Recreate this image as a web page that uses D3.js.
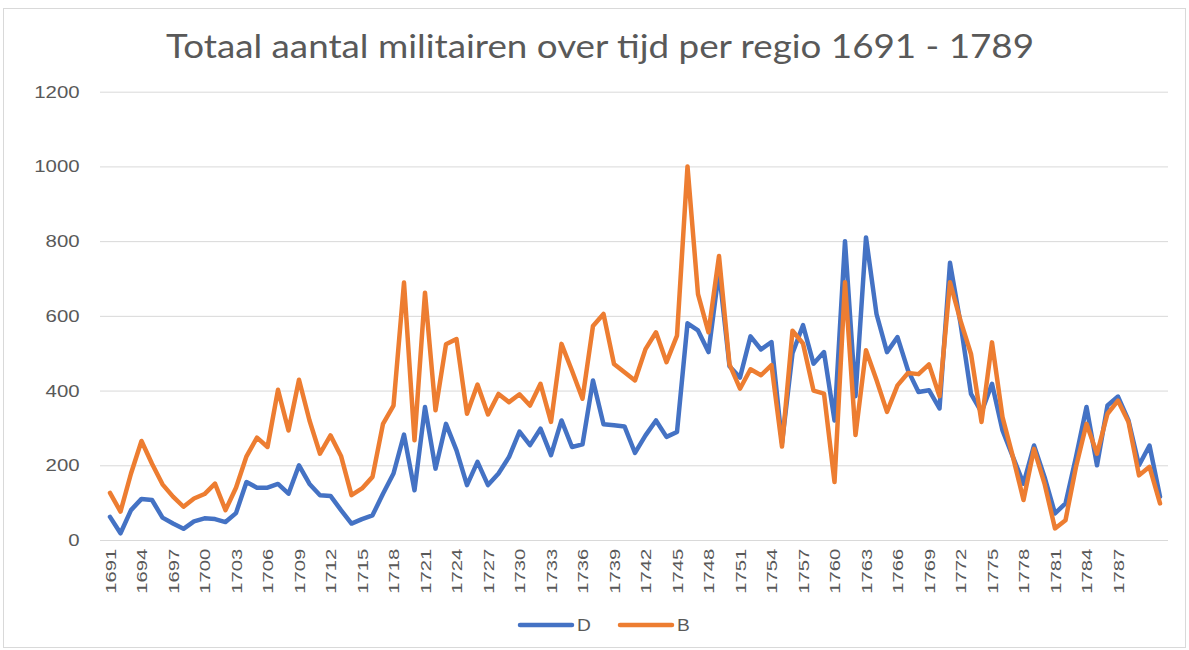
<!DOCTYPE html>
<meta charset="utf-8">
<style>
  body { margin: 0; background: #fff; }
  .grid line { stroke: #d9d9d9; stroke-width: 1; }
  .grid .domain { display: none; }
  .axis text { fill: #595959; font-family: "Liberation Sans", Arial, sans-serif; }
  .axis .domain, .axis line { display: none; }
  .title { fill: #595959; font-family: Lato, "Open Sans", sans-serif; }
  .legend text { fill: #595959; font-family: "Liberation Sans", Arial, sans-serif; font-size: 16px; }
</style>
<svg width="1189" height="650"></svg>
<script src="https://d3js.org/d3.v7.min.js"></script>
<script>
// Years on the category axis
var years = d3.range(1691, 1792);
// Years that carry a label on the axis
var tickLabels = [1691, 1694, 1697, 1700, 1703, 1706, 1709, 1712, 1715, 1718, 1721, 1724, 1727,
  1730, 1733, 1736, 1739, 1742, 1745, 1748, 1751, 1754, 1757, 1760, 1763, 1766, 1769, 1772,
  1775, 1778, 1781, 1784, 1787];
var yTicks = [0, 200, 400, 600, 800, 1000, 1200];

// Series D (blue)
var seriesD = [62, 18, 80, 110, 107, 60, 44, 30, 50, 58,
  56, 48, 72, 155, 140, 140, 150, 124, 200, 150,
  120, 118, 80, 44, 56, 66, 124, 178, 282, 133,
  356, 191, 311, 240, 147, 209, 147, 178, 222, 290,
  254, 298, 227, 320, 249, 256, 427, 310, 307, 304,
  233, 280, 320, 276, 289, 580, 561, 503, 720, 465,
  435, 545, 510, 530, 260, 500, 575, 472, 503, 320,
  800, 385, 810, 605, 503, 543, 454, 396, 401, 352,
  742, 580, 391, 342, 418, 293, 222, 151, 253, 169,
  71, 98, 222, 356, 200, 360, 384, 320, 200, 253,
  116];
// Series B (orange)
var seriesB = [126, 76, 178, 265, 204, 149, 116, 89, 111, 123,
  151, 80, 140, 224, 274, 249, 402, 293, 429, 320,
  231, 280, 225, 120, 138, 169, 311, 360, 689, 267,
  662, 347, 524, 538, 338, 416, 336, 391, 369, 390,
  360, 418, 316, 525, 453, 378, 573, 605, 471, 449,
  427, 511, 556, 476, 547, 1000, 658, 556, 760, 470,
  405, 457, 441, 468, 250, 560, 526, 400, 392, 155,
  690, 281, 508, 428, 343, 414, 447, 444, 470, 385,
  690, 587, 498, 316, 529, 329, 222, 107, 244, 151,
  31, 53, 196, 311, 231, 338, 373, 316, 173, 196,
  98];

var svg = d3.select("svg");

// Chart frame
svg.append("rect")
  .attr("x", 3.5).attr("y", 8.5)
  .attr("width", 1182).attr("height", 639)
  .attr("fill", "#fff")
  .attr("stroke", "#d9d9d9");

var x = d3.scalePoint().domain(years).range([110, 1160]);
var y = d3.scaleLinear().domain([0, 1200]).range([540, 91.7]);

// Gridlines
svg.append("g")
  .attr("class", "grid")
  .attr("transform", "translate(100,0)")
  .call(d3.axisLeft(y).tickValues(yTicks).tickSize(-1068).tickFormat(""));

// Y axis labels
svg.append("g")
  .attr("class", "axis")
  .attr("transform", "translate(82,0)")
  .call(d3.axisLeft(y).tickValues(yTicks).tickSize(0).tickFormat(d3.format("d")))
  .selectAll("text")
  .style("font-size", "17px")
  .attr("x", -2)
  .attr("transform", "scale(1.2,1)");

// X axis labels (rotated)
svg.append("g")
  .attr("class", "axis")
  .attr("transform", "translate(0,546)")
  .call(d3.axisBottom(x).tickValues(tickLabels).tickSize(0).tickFormat(d3.format("d")))
  .selectAll("text")
  .style("font-size", "15px")
  .attr("text-anchor", "end")
  .attr("dy", "0.35em")
  .attr("transform", "rotate(-90) scale(1.35,1)")
  .attr("x", -2)
  .attr("y", 0);

// Lines
var line = function (vals) {
  return d3.line()
    .x(function (d, i) { return x(years[i]); })
    .y(function (d) { return y(d); })(vals);
};
svg.append("path")
  .attr("d", line(seriesD))
  .attr("fill", "none")
  .attr("stroke", "#4472C4")
  .attr("stroke-width", 4.5)
  .attr("stroke-linejoin", "round")
  .attr("stroke-linecap", "round");
svg.append("path")
  .attr("d", line(seriesB))
  .attr("fill", "none")
  .attr("stroke", "#ED7D31")
  .attr("stroke-width", 4.5)
  .attr("stroke-linejoin", "round")
  .attr("stroke-linecap", "round");

// Title
svg.append("text")
  .attr("class", "title")
  .attr("x", 600).attr("y", 58)
  .attr("text-anchor", "middle")
  .attr("textLength", 868)
  .attr("lengthAdjust", "spacingAndGlyphs")
  .style("font-size", "33px")
  .text("Totaal aantal militairen over tijd per regio 1691 - 1789");

// Legend
var legend = svg.append("g").attr("class", "legend");
var items = [{ name: "D", color: "#4472C4", x: 520 }, { name: "B", color: "#ED7D31", x: 620 }];
items.forEach(function (it) {
  legend.append("line")
    .attr("x1", it.x).attr("x2", it.x + 52)
    .attr("y1", 625).attr("y2", 625)
    .attr("stroke", it.color).attr("stroke-width", 4.5).attr("stroke-linecap", "round");
  legend.append("text")
    .attr("x", it.x + 57).attr("y", 631)
    .attr("transform", "translate(" + (-(it.x + 57) * 0.2) + ",0) scale(1.2,1)")
    .text(it.name);
});
</script>
